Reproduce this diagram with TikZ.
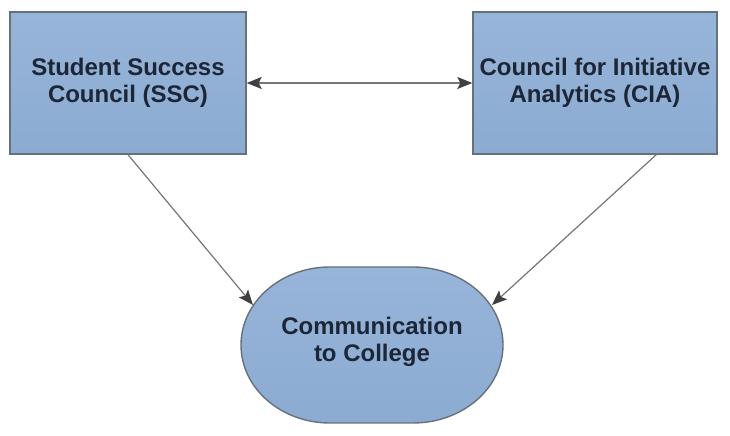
\documentclass[tikz,border=0pt]{standalone}
\usepackage{fontspec}
\setmainfont{Liberation Sans}
\usetikzlibrary{arrows.meta}
\definecolor{boxtop}{HTML}{97B5D9}
\definecolor{boxbot}{HTML}{8CABD1}
\definecolor{boxedge}{HTML}{66717D}
\definecolor{txt}{HTML}{1C2636}
\definecolor{lineg}{HTML}{767676}
\definecolor{tipg}{HTML}{404040}
\begin{document}
\begin{tikzpicture}[x=1bp,y=1bp,
  tipstyle/.style={},
  boxstyle/.style={draw=boxedge, line width=1.4bp, top color=boxtop, bottom color=boxbot,
    inner sep=0pt, text=txt, align=center,
    font=\fontsize{24bp}{27bp}\selectfont\bfseries},
  labelstyle/.style={inner sep=0pt, text=txt, align=center,
    font=\fontsize{24bp}{27bp}\selectfont\bfseries},
  conn/.style={draw=lineg, line width=1.2bp,
    -{Stealth[length=15bp,width=12bp,inset=3bp,color=tipg]}},
  dconn/.style={draw=lineg, line width=1.2bp,
    {Stealth[length=15bp,width=12bp,inset=3bp,color=tipg]}-{Stealth[length=15bp,width=12bp,inset=3bp,color=tipg]}}
]
\useasboundingbox[fill=white] (0,0) rectangle (730,436);

\node[boxstyle, minimum width=236bp, minimum height=142bp] (ssc) at (128,353)
  {Student Success\\Council (SSC)};
\node[boxstyle, minimum width=244bp, minimum height=142bp] (cia) at (595,353)
  {Council for Initiative\\Analytics (CIA)};

% stadium
\path[draw=boxedge, line width=1.4bp, top color=boxtop, bottom color=boxbot]
  (330,169) -- (413,169) arc[start angle=90, end angle=-90, x radius=90, y radius=78]
  -- (330,13) arc[start angle=-90, end angle=-270, x radius=89, y radius=78] -- cycle;
\node[labelstyle] (comm) at (372,94) {Communication\\to College};

\coordinate (ciaout) at (657,282);
\coordinate (commL) at (253,131);
\coordinate (commR) at (492,131);

\draw[dconn] (ssc.east) -- (cia.west);
\draw[conn] (ssc.south) -- (commL);
\draw[conn] (ciaout) -- (commR);
\end{tikzpicture}
\end{document}
